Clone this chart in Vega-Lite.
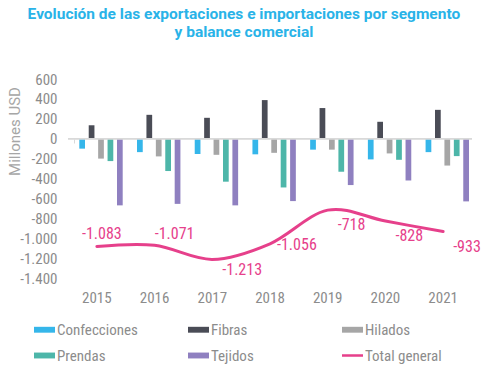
{
  "$schema": "https://vega.github.io/schema/vega-lite/v6.json",
  "autosize": {"type": "none"},
  "width": 404,
  "height": 199,
  "padding": {"left": 68, "top": 79, "right": 9, "bottom": 103},
  "title": {
    "text": ["Evolución de las exportaciones e importaciones por segmento", "y balance comercial"],
    "anchor": "middle",
    "frame": "bounds",
    "font": "Roboto",
    "fontSize": 15.5,
    "fontWeight": "bold",
    "color": "#29B3E8",
    "lineHeight": 18,
    "offset": 32
  },
  "datasets": {
    "bars": [
      {"year": "2015", "segment": "Confecciones", "value": -100},
      {"year": "2015", "segment": "Fibras", "value": 135},
      {"year": "2015", "segment": "Hilados", "value": -200},
      {"year": "2015", "segment": "Prendas", "value": -225},
      {"year": "2015", "segment": "Tejidos", "value": -670},
      {"year": "2016", "segment": "Confecciones", "value": -135},
      {"year": "2016", "segment": "Fibras", "value": 240},
      {"year": "2016", "segment": "Hilados", "value": -178},
      {"year": "2016", "segment": "Prendas", "value": -325},
      {"year": "2016", "segment": "Tejidos", "value": -655},
      {"year": "2017", "segment": "Confecciones", "value": -155},
      {"year": "2017", "segment": "Fibras", "value": 210},
      {"year": "2017", "segment": "Hilados", "value": -162},
      {"year": "2017", "segment": "Prendas", "value": -432},
      {"year": "2017", "segment": "Tejidos", "value": -670},
      {"year": "2018", "segment": "Confecciones", "value": -157},
      {"year": "2018", "segment": "Fibras", "value": 388},
      {"year": "2018", "segment": "Hilados", "value": -142},
      {"year": "2018", "segment": "Prendas", "value": -490},
      {"year": "2018", "segment": "Tejidos", "value": -627},
      {"year": "2019", "segment": "Confecciones", "value": -110},
      {"year": "2019", "segment": "Fibras", "value": 308},
      {"year": "2019", "segment": "Hilados", "value": -110},
      {"year": "2019", "segment": "Prendas", "value": -332},
      {"year": "2019", "segment": "Tejidos", "value": -466},
      {"year": "2020", "segment": "Confecciones", "value": -208},
      {"year": "2020", "segment": "Fibras", "value": 170},
      {"year": "2020", "segment": "Hilados", "value": -148},
      {"year": "2020", "segment": "Prendas", "value": -212},
      {"year": "2020", "segment": "Tejidos", "value": -420},
      {"year": "2021", "segment": "Confecciones", "value": -135},
      {"year": "2021", "segment": "Fibras", "value": 290},
      {"year": "2021", "segment": "Hilados", "value": -270},
      {"year": "2021", "segment": "Prendas", "value": -175},
      {"year": "2021", "segment": "Tejidos", "value": -630}
    ],
    "totals": [
      {"year": "2015", "total": -1083},
      {"year": "2016", "total": -1071},
      {"year": "2017", "total": -1213},
      {"year": "2018", "total": -1056},
      {"year": "2019", "total": -718},
      {"year": "2020", "total": -828},
      {"year": "2021", "total": -933}
    ]
  },
  "resolve": {"axis": {"x": "independent"}},
  "layer": [
    {
      "data": {"name": "bars"},
      "mark": {"type": "bar", "width": {"band": 0.78}},
      "encoding": {
        "x": {
          "field": "year", "type": "nominal", "sort": null,
          "scale": {"paddingInner": 0.22, "paddingOuter": 0.11},
          "axis": {
            "orient": "bottom", "title": null, "domain": false, "ticks": false, "labelAngle": 0,
            "labelPadding": 12, "labelFontSize": 15, "labelColor": "#8C8C8C",
            "labelFont": "Liberation Sans Narrow, Roboto Condensed, Roboto"
          }
        },
        "xOffset": {"field": "segment", "type": "nominal", "sort": null, "scale": {"paddingInner": 0.22, "paddingOuter": 0}},
        "y": {
          "field": "value", "type": "quantitative",
          "scale": {"domain": [-1400, 600], "nice": false},
          "axis": {
            "title": "Millones USD", "values": [-1400, -1200, -1000, -800, -600, -400, -200, 0, 200, 400, 600],
            "tickCount": 12,
            "format": ",.0f", "grid": false, "domain": false, "ticks": false, "labelOverlap": false,
            "labelPadding": 11, "labelFontSize": 15, "labelColor": "#8C8C8C",
            "labelFont": "Liberation Sans Narrow, Roboto Condensed, Roboto",
            "titleFont": "Roboto", "titleFontSize": 15, "titleFontWeight": "normal", "titleColor": "#A6A6A6",
            "titleX": -54, "titleY": 52, "titleAngle": -90, "titleAlign": "center", "titleBaseline": "middle"
          }
        },
        "color": {
          "field": "segment", "type": "nominal",
          "scale": {
            "domain": ["Confecciones", "Fibras", "Hilados", "Prendas", "Tejidos", "Total general"],
            "range": ["#35B6EA", "#4A4C56", "#A6A6A6", "#4DB6A9", "#8F80C0", "#E6408B"]
          },
          "legend": {
            "title": null, "orient": "none", "legendX": -34, "legendY": 240,
            "direction": "horizontal", "columns": 3, "gridAlign": "all",
            "columnPadding": 50, "rowPadding": 7,
            "symbolType": "M-1,-0.28H1V0.28H-1Z", "symbolSize": 441, "symbolStrokeWidth": 0,
            "labelOffset": 2, "labelFontSize": 15, "labelColor": "#8C8C8C",
            "labelFont": "Liberation Sans Narrow, Roboto Condensed, Roboto",
            "encode": {"symbols": {"update": {"shape": [{"test": "datum.value === 'Total general'", "value": "M-1,-0.12H1V0.12H-1Z"}, {"value": "M-1,-0.28H1V0.28H-1Z"}]}}}
          }
        }
      }
    },
    {
      "data": {"name": "totals"},
      "mark": {"type": "rule", "color": "#D9D9D9", "strokeWidth": 1},
      "encoding": {"y": {"datum": 0, "type": "quantitative"}}
    },
    {
      "data": {"name": "totals"},
      "mark": {"type": "text", "opacity": 0},
      "encoding": {
        "x": {
          "field": "year", "type": "nominal", "sort": null,
          "axis": {
            "orient": "bottom", "offset": -139, "title": null, "domain": false, "labels": false,
            "ticks": true, "tickBand": "extent", "tickSize": 4, "tickColor": "#D9D9D9", "tickWidth": 1
          }
        },
        "y": {"datum": 0, "type": "quantitative"},
        "text": {"value": ""}
      }
    },
    {
      "data": {"name": "totals"},
      "mark": {"type": "line", "interpolate": "cardinal", "strokeWidth": 3, "strokeCap": "round"},
      "encoding": {
        "x": {"field": "year", "type": "nominal", "sort": null, "axis": null},
        "y": {"field": "total", "type": "quantitative"},
        "color": {"datum": "Total general"}
      }
    },
    {
      "data": {"name": "totals"},
      "transform": [{"filter": "datum.year === '2015'"}],
      "mark": {"type": "text", "align": "center", "baseline": "middle", "dx": 5, "dy": -12, "fontSize": 16, "font": "Liberation Sans Narrow, Roboto Condensed, Roboto", "color": "#E6408B"},
      "encoding": {"x": {"field": "year", "type": "nominal", "sort": null, "axis": null}, "y": {"field": "total", "type": "quantitative"}, "text": {"field": "total", "format": ",.0f"}}
    },
    {
      "data": {"name": "totals"},
      "transform": [{"filter": "datum.year === '2016'"}],
      "mark": {"type": "text", "align": "center", "baseline": "middle", "dx": 20, "dy": -11, "fontSize": 16, "font": "Liberation Sans Narrow, Roboto Condensed, Roboto", "color": "#E6408B"},
      "encoding": {"x": {"field": "year", "type": "nominal", "sort": null, "axis": null}, "y": {"field": "total", "type": "quantitative"}, "text": {"field": "total", "format": ",.0f"}}
    },
    {
      "data": {"name": "totals"},
      "transform": [{"filter": "datum.year === '2017'"}],
      "mark": {"type": "text", "align": "left", "baseline": "middle", "dx": 10, "dy": 11, "fontSize": 16, "font": "Liberation Sans Narrow, Roboto Condensed, Roboto", "color": "#E6408B"},
      "encoding": {"x": {"field": "year", "type": "nominal", "sort": null, "axis": null}, "y": {"field": "total", "type": "quantitative"}, "text": {"field": "total", "format": ",.0f"}}
    },
    {
      "data": {"name": "totals"},
      "transform": [{"filter": "datum.year === '2018'"}],
      "mark": {"type": "text", "align": "left", "baseline": "middle", "dx": 7, "dy": 1, "fontSize": 16, "font": "Liberation Sans Narrow, Roboto Condensed, Roboto", "color": "#E6408B"},
      "encoding": {"x": {"field": "year", "type": "nominal", "sort": null, "axis": null}, "y": {"field": "total", "type": "quantitative"}, "text": {"field": "total", "format": ",.0f"}}
    },
    {
      "data": {"name": "totals"},
      "transform": [{"filter": "datum.year >= '2019'"}],
      "mark": {"type": "text", "align": "left", "baseline": "middle", "dx": 10, "dy": 15, "fontSize": 16, "font": "Liberation Sans Narrow, Roboto Condensed, Roboto", "color": "#E6408B"},
      "encoding": {"x": {"field": "year", "type": "nominal", "sort": null, "axis": null}, "y": {"field": "total", "type": "quantitative"}, "text": {"field": "total", "format": ",.0f"}}
    }
  ],
  "config": {
    "view": {"stroke": null},
    "locale": {"number": {"decimal": ",", "thousands": ".", "grouping": [3], "currency": ["", ""], "minus": "-"}}
  }
}
